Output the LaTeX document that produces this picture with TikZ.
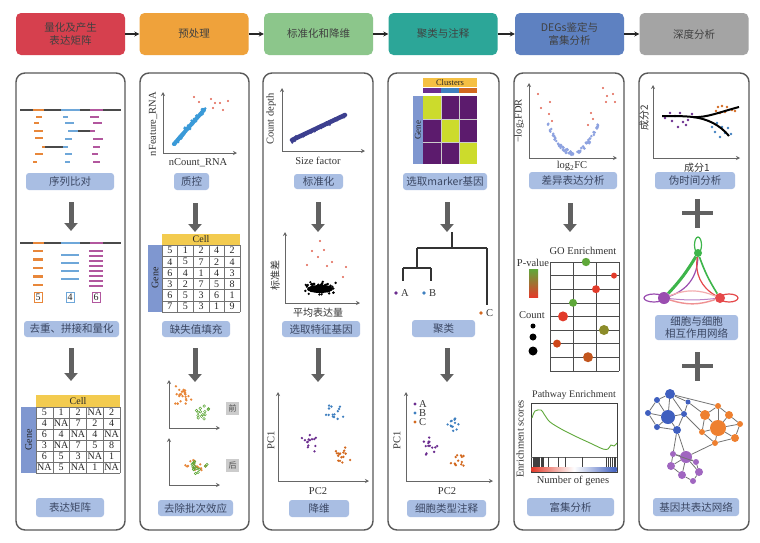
\documentclass[tikz,border=0pt]{standalone}
\usepackage{fontspec}
\setmainfont{Liberation Serif}
\newfontfamily\cjk{Noto Sans CJK SC}
\usetikzlibrary{arrows.meta,positioning,calc,shapes.geometric}
\definecolor{hred}{HTML}{D6404E}
\definecolor{horange}{HTML}{EFA23B}
\definecolor{hgreen}{HTML}{8CC68B}
\definecolor{hteal}{HTML}{2CA698}
\definecolor{hblue}{HTML}{5E81C1}
\definecolor{hgray}{HTML}{A4A4A4}
\definecolor{tagblue}{HTML}{A9BEE3}
\definecolor{tagtext}{HTML}{3B4763}
\definecolor{frame}{HTML}{595959}
\definecolor{cellyel}{HTML}{F3CB4F}
\definecolor{genebar}{HTML}{7F97D0}
\definecolor{rdorange}{HTML}{E8873A}
\definecolor{rdblue}{HTML}{6EA7D9}
\definecolor{rdpurple}{HTML}{B2579E}
\definecolor{rdgray}{HTML}{4A4A4A}
\definecolor{qcblue}{HTML}{3A9AD8}
\definecolor{navy}{HTML}{3C3F8F}
\definecolor{clpurple}{HTML}{6B2D8F}
\definecolor{clblue}{HTML}{3F80C0}
\definecolor{clorange}{HTML}{D3691F}
\definecolor{hmpurple}{HTML}{5C1B6D}
\definecolor{hmyellow}{HTML}{CCDB2C}
\definecolor{volblue}{HTML}{8DA2E0}
\definecolor{volred}{HTML}{E0604E}
\definecolor{gogreen}{HTML}{5FA83A}
\definecolor{gored}{HTML}{E23B2A}
\definecolor{goolive}{HTML}{8C8C2A}
\definecolor{gobrown}{HTML}{C2561E}
\definecolor{netblue}{HTML}{3F5FBF}
\definecolor{netorange}{HTML}{EE8030}
\definecolor{netpurple}{HTML}{A066C0}
\definecolor{ccgreen}{HTML}{3DB54A}
\definecolor{ccpurple}{HTML}{9A4DB0}
\definecolor{ccred}{HTML}{E5484A}
\tikzset{hdr/.style={rounded corners=5pt,minimum width=109pt,minimum height=42pt,align=center,
    font=\cjk\fontsize{10.5}{12.5}\selectfont,text=black!75,inner sep=2pt},
  panel/.style={draw=frame,line width=1.4pt,rounded corners=9pt},
  tag/.style={fill=tagblue,rounded corners=3pt,align=center,text=tagtext,
    font=\cjk\fontsize{10.5}{12}\selectfont,inner sep=1pt},
  flow/.style={-{Stealth[length=5pt,width=5pt]},line width=1.8pt,draw=black!85},
  downarrow/.style={-{Triangle[length=8pt,width=13pt]},line width=5pt,draw=black!62},
  plusbar/.style={line width=4.5pt,draw=black!62},
  axes2/.style={{Stealth[length=4pt,width=4pt]}-{Stealth[length=4pt,width=4pt]},line width=0.9pt,draw=black!60},
  axlabel/.style={font=\fontsize{10.5}{12}\selectfont,text=black!80,inner sep=1pt},
  cjklabel/.style={font=\cjk\fontsize{10}{11}\selectfont,text=black!80,inner sep=1pt},
  readbar/.style={line width=2.6pt},
  tabline/.style={draw=black!55,line width=0.5pt},
  num/.style={font=\fontsize{10}{10}\selectfont,inner sep=0pt,text=black!85},
  netnode/.style={circle,inner sep=0pt},
  netlink/.style={draw=black!55,line width=0.8pt}}
\newcommand{\dotcloud}[6]{\foreach \k in {1,...,#5}{%
  \pgfmathsetmacro\dcx{#1+#3*(rand+rand)/2}\pgfmathsetmacro\dcy{#2+#4*(rand+rand)/2}%
  \fill[#6] (\dcx,\dcy) circle (1.3);}}

\begin{document}
\begin{tikzpicture}[x=1pt,y=-1pt]
\pgfmathsetseed{11}
\useasboundingbox (0,0) rectangle (760,542);
\fill[white] (0,0) rectangle (760,542);

% stage headers
\node[hdr,fill=hred]    (h1) at (70.5,34) {量化及产生\\表达矩阵};
\node[hdr,fill=horange] (h2) at (194,34) {预处理};
\node[hdr,fill=hgreen]  (h3) at (318.5,34) {标准化和降维};
\node[hdr,fill=hteal]   (h4) at (443,34) {聚类与注释};
\node[hdr,fill=hblue]   (h5) at (569.5,34) {DEGs鉴定与\\富集分析};
\node[hdr,fill=hgray]   (h6) at (694,34) {深度分析};
\foreach \a/\b in {h1/h2,h2/h3,h3/h4,h4/h5,h5/h6} \draw[flow] (\a) -- (\b);

% panels
\foreach \a/\b in {16/125,140/249,263/373,388/499,514/624,639/749}
  \draw[panel] (\a,73) rectangle (\b,530);

% step tags
\node[tag,minimum width=88pt,minimum height=17pt] (t11) at (70,181.5) {序列比对};
\node[tag,minimum width=95pt,minimum height=16pt] (t12) at (71.5,329) {去重、拼接和量化};
\node[tag,minimum width=68pt,minimum height=19pt] (t13) at (70,507.5) {表达矩阵};
\node[tag,minimum width=35pt,minimum height=17pt] (t21) at (191.5,181.5) {质控};
\node[tag,minimum width=68pt,minimum height=16pt] (t22) at (196,329) {缺失值填充};
\node[tag,minimum width=75pt,minimum height=16pt] (t23) at (195.5,508) {去除批次效应};
\node[tag,minimum width=49pt,minimum height=15pt] (t31) at (318.5,181.5) {标准化};
\node[tag,minimum width=78pt,minimum height=16pt] (t32) at (321,329) {选取特征基因};
\node[tag,minimum width=60pt,minimum height=17pt] (t33) at (319,508.5) {降维};
\node[tag,minimum width=84pt,minimum height=17pt] (t41) at (445,181.5) {选取marker基因};
\node[tag,minimum width=63pt,minimum height=17pt] (t42) at (443.5,328.5) {聚类};
\node[tag,minimum width=79pt,minimum height=17pt] (t43) at (446.5,508.5) {细胞类型注释};
\node[tag,minimum width=88pt,minimum height=17pt] (t51) at (573,180.5) {差异表达分析};
\node[tag,minimum width=87pt,minimum height=18pt] (t52) at (570.5,507) {富集分析};
\node[tag,minimum width=80pt,minimum height=17pt] (t61) at (695,180.5) {伪时间分析};
\node[tag,minimum width=83pt,minimum height=25pt] (t62) at (696.5,327.5) {细胞与细胞\\相互作用网络};
\node[tag,minimum width=86pt,minimum height=18pt] (t63) at (696,507) {基因共表达网络};

% down arrows and plus signs
\foreach \n/\x/\ya/\yb in {d11/71/202/231,d12/71/348/381,d21/195/203/232,d22/195/348/382,
    d31/318/202/232,d32/318/348/382,d41/447/202/232,d42/447/348/382,d51/570/203/232}{
  \coordinate (\n a) at (\x,\ya); \coordinate (\n b) at (\x,\yb);
  \draw[downarrow] (\n a) -- (\n b);}
\foreach \y in {213,366} \draw[plusbar] (682,\y) -- (713,\y) (697.5,{\y-14}) -- (697.5,{\y+15});

% --- panel 1: alignment
\foreach \a/\b/\c in {20/33/rdgray,33/44/rdorange,44/61/rdgray,61/80/rdblue,80/90/rdgray,90/103/rdpurple,103/121/rdgray}
  {\draw[readbar,\c] (\a,110) -- (\b,110); \draw[readbar,\c] (\a,243) -- (\b,243);}
\foreach \y/\a/\b/\c in {117/36/42/rdorange,123/34/39/rdorange,131/34/43/rdorange,138/35/43/rdorange,
    147/42/45/rdorange,147/45/63/rdgray,154/35/43/rdorange,162/33/37/rdorange,
    117/63/68/rdblue,123/65/74/rdblue,131/68/78/rdblue,131/78/90/rdgray,139/65/72/rdblue,
    147/63/68/rdblue,154/65/72/rdblue,162/65/70/rdblue,
    117/90/99/rdpurple,123/93/102/rdpurple,131/90/95/rdpurple,139/93/103/rdpurple,
    147/93/100/rdpurple,154/92/98/rdpurple,162/93/100/rdpurple}
  \draw[readbar,\c] (\a,\y) -- (\b,\y);
\foreach \y in {251,259.5,268,276.5,285} \draw[readbar,rdorange,line width=2.2pt] (33,\y) -- (43,\y);
\foreach \y in {255,263,271,279} \draw[readbar,rdblue,line width=2.2pt] (61,\y) -- (79,\y);
\foreach \y in {251,256,261,266,271,276,281,286} \draw[readbar,rdpurple,line width=2.2pt] (89,\y) -- (103,\y);
\node[num,draw=rdorange,line width=0.6pt,minimum width=8pt,minimum height=10pt] (c5) at (38,297) {5};
\node[num,draw=rdblue,line width=0.6pt,minimum width=8pt,minimum height=10pt] (c4) at (70,297) {4};
\node[num,draw=rdpurple,line width=0.6pt,minimum width=8pt,minimum height=10pt] (c6) at (96,297) {6};

% panel 1: expression matrix
\fill[cellyel] (36,395) rectangle (120,407);
\node[num] (cella) at (78,401) {Cell};
\fill[genebar] (21,407) rectangle (36,473);
\node[num,rotate=90] (genea) at (28.5,440) {Gene};
\foreach \i in {0,...,5} \draw[tabline] ({36+16.8*\i},407) -- ({36+16.8*\i},473);
\foreach \j in {0,...,6} \draw[tabline] (36,{407+11*\j}) -- (120,{407+11*\j});
\foreach \row [count=\j] in {{5,1,2,NA,2},{4,NA,7,2,4},{6,4,NA,4,NA},{3,NA,7,5,8},{6,5,3,NA,1},{NA,5,NA,1,NA}}
  \foreach \v [count=\i] in \row \node[num] (ta-\j-\i) at ({36+16.8*(\i-0.5)},{407+11*(\j-0.5)}) {\v};

% --- panel 2: QC scatter
\draw[axes2] (163,92) -- (163,153) -- (237,153);
\node[axlabel,rotate=90] (qcy) at (153,124) {nFeature\_RNA};
\node[axlabel] (qcx) at (198,163) {nCount\_RNA};
\draw[qcblue,line width=4pt,line cap=round] (174,144) -- (204,110);
\foreach \k in {0,...,60}{\pgfmathsetmacro\tt{\k/60}
  \fill[qcblue] ({173+32*\tt+2*rand},{145-37*\tt+2*rand}) circle (1.4);}
\foreach \x/\y in {194/97,199/102,211/99,215/103,220/103,228/101,213/108,223/110}
  \fill[volred] (\x,\y) circle (1.2);

% panel 2: imputed matrix
\fill[cellyel] (162,234) rectangle (240,245);
\node[num] (cellb) at (201,239.5) {Cell};
\fill[genebar] (148,245) rectangle (162,312);
\node[num,rotate=90] (geneb) at (155,278) {Gene};
\foreach \i in {0,...,5} \draw[tabline] ({162+15.6*\i},245) -- ({162+15.6*\i},312);
\foreach \j in {0,...,6} \draw[tabline] (162,{245+11.17*\j}) -- (240,{245+11.17*\j});
\foreach \row [count=\j] in {{5,1,2,4,2},{4,5,7,2,4},{6,4,1,4,3},{3,2,7,5,8},{6,5,3,6,1},{7,5,3,1,9}}
  \foreach \v [count=\i] in \row \node[num] (tb-\j-\i) at ({162+15.6*(\i-0.5)},{245+11.17*(\j-0.5)}) {\v};

% panel 2: batch effect
\draw[axes2] (169,380) -- (169,428) -- (220,428);
\dotcloud{183}{396}{9}{13}{26}{rdorange}
\foreach \k in {1,...,14}\draw[gogreen,line width=0.5pt] ({203+9*(rand+rand)/2},{413+10*(rand+rand)/2}) circle (1.3);
\node[fill=black!20,font=\cjk\fontsize{8}{9}\selectfont,text=black!70,minimum size=13pt,inner sep=0pt] (pre) at (232.5,408.5) {前};
\draw[axes2] (169,438) -- (169,485) -- (220,485);
\dotcloud{196}{467}{13}{8}{18}{rdorange}
\foreach \k in {1,...,14}\draw[gogreen,line width=0.6pt] ({196+12*(rand+rand)/2},{467+8*(rand+rand)/2}) circle (1.3);
\node[fill=black!20,font=\cjk\fontsize{8}{9}\selectfont,text=black!70,minimum size=13pt,inner sep=0pt] (post) at (232.5,465.5) {后};

% --- panel 3: size factors
\draw[axes2] (282,88) -- (282,151) -- (365,151);
\node[axlabel,rotate=90] (cdy) at (271,119) {Count depth};
\node[axlabel] (cdx) at (318,161) {Size factor};
\draw[navy,line width=4.5pt,line cap=round] (292,140) -- (345,115);
\foreach \k in {0,...,55}{\pgfmathsetmacro\tt{\k/55}
  \fill[navy] ({291+55*\tt+1.5*rand},{141-26*\tt+2.2*rand}) circle (1.3);}

% panel 3: variable genes
\draw[axes2] (285,232) -- (285,303) -- (360,303);
\node[cjklabel,rotate=90] (sdy) at (275,275) {标准差};
\node[cjklabel] (sdx) at (318,313) {平均表达量};
\fill[black] (320,289) ellipse (13 and 4);
\dotcloud{320}{288}{18}{7}{90}{black}
\foreach \x/\y in {320/241,312/251,324/250,318/257,307/265,332/262,327/266,346/267,343/277}
  \fill[volred] (\x,\y) circle (1.2);

% panel 3: PCA
\draw[axes2] (278,392) -- (278,481) -- (369,481);
\node[axlabel,rotate=90] (pcay) at (271,440) {PC1};
\node[axlabel] (pcax) at (318,491) {PC2};
\dotcloud{335}{414}{11}{9}{14}{clblue}
\dotcloud{310}{441}{10}{13}{14}{clpurple}
\dotcloud{343}{454}{9}{10}{16}{clorange}

% --- panel 4: marker heatmap
\fill[cellyel!85!orange] (423,78) rectangle (477,87);
\node[num,font=\fontsize{8.5}{9}\selectfont] (clus) at (450,82.5) {Clusters};
\fill[clpurple] (423,88) rectangle (441,93);
\fill[clblue] (441,88) rectangle (459,93);
\fill[clorange] (459,88) rectangle (477,93);
\fill[genebar] (413,96) rectangle (423,164);
\node[num,rotate=90,font=\fontsize{9}{9}\selectfont] (genec) at (418,130) {Gene};
\fill[hmpurple] (423,96) rectangle (477,164);
\fill[hmyellow] (423,96) rectangle (441,119);
\fill[hmyellow] (441,119) rectangle (459,142);
\fill[hmyellow] (459,142) rectangle (477,164);
\draw[white!80!black,line width=0.4pt] (441,96) -- (441,164) (459,96) -- (459,164) (423,119) -- (477,119) (423,142) -- (477,142);

% panel 4: dendrogram
\draw[black!80,line width=1.1pt] (452,232) -- (452,248) (417,248) -- (487,248) (417,248) -- (417,268)
  (403,268) -- (431,268) (403,268) -- (403,281) (431,268) -- (431,281) (487,248) -- (487,305);
\fill[clpurple] (396,293) circle (1.8); \node[axlabel,anchor=west] (la) at (400,293) {A};
\fill[clblue] (424,293) circle (1.8); \node[axlabel,anchor=west] (lb) at (428,293) {B};
\fill[clorange] (481,313) circle (1.8); \node[axlabel,anchor=west] (lc) at (485,313) {C};

% panel 4: annotated PCA
\draw[axes2] (406,392) -- (406,481) -- (493,481);
\node[axlabel,rotate=90] (pcby) at (397,440) {PC1};
\node[axlabel] (pcbx) at (447,491) {PC2};
\foreach \y/\c/\t in {404/clpurple/A,413/clblue/B,422/clorange/C}
  {\fill[\c] (415,\y) circle (1.6); \node[axlabel,anchor=west] (lg\t) at (418,\y) {\t};}
\dotcloud{453}{424}{9}{8}{13}{clblue}
\dotcloud{431}{447}{9}{12}{14}{clpurple}
\dotcloud{458}{458}{8}{9}{13}{clorange}

% --- panel 5: volcano
\draw[axes2] (529,83) -- (529,158) -- (617,158);
\node[axlabel,rotate=90] (voly) at (519,121) {−log\textsubscript{2}FDR};
\node[axlabel] (volx) at (572,166) {log\textsubscript{2}FC};
\foreach \k in {1,...,80}{\pgfmathsetmacro\vu{rand}
  \fill[volblue] ({573+25*\vu},{153-29*\vu*\vu+2.5*rand}) circle (1.4);}
\foreach \x/\y in {538/94,541/108,550/102,549/114,552/121,591/113,593/119,588/125,603/88,607/96,613/94,606/102,615/102}
  \fill[volred] (\x,\y) circle (1.2);

% panel 5: GO enrichment
\node[axlabel] (gott) at (583,251) {GO Enrichment};
\foreach \x in {550,573,596,619} \draw[tabline,black!70] (\x,262) -- (\x,371);
\foreach \j in {0,...,8} \draw[tabline,black!70] (550,{262+13.6*\j}) -- (619,{262+13.6*\j});
\node[axlabel] (pval) at (533,263) {P-value};
\shade[top color=gogreen,bottom color=gored] (529,269) rectangle (538,297);
\node[axlabel] (cnt) at (532,315) {Count};
\fill[black] (533,326) circle (2.5) (533,337) circle (3.5) (533,351) circle (4.5);
\fill[gogreen] (586,262) circle (4.2);
\fill[gored] (614,275.6) circle (3);
\fill[gored] (596,289.2) circle (4);
\fill[gogreen] (573,302.8) circle (4);
\fill[gored] (563,316.4) circle (5);
\fill[goolive] (604,330) circle (5);
\fill[gobrown!80!red] (557,343.6) circle (4);
\fill[gobrown] (588,357.2) circle (5);

% panel 5: pathway enrichment
\node[axlabel,font=\fontsize{10}{11}\selectfont] (pwtt) at (574,395) {Pathway Enrichment};
\draw[black!75,line width=0.8pt] (531,403) rectangle (617,472);
\draw[black!60,line width=0.4pt] (531,457) -- (617,457);
\shade[left color=gored,right color=netblue,middle color=white] (531.5,467) rectangle (616.5,471.5);
\foreach \x in {533,534,535,536,537,538,539,541,542,543,548,558,565,582,606,608,610,612,614,615}
  \draw[black!75,line width=0.4pt] (\x,457) -- (\x,467);
\draw[gogreen,line width=0.9pt] plot[smooth] coordinates {(532,418) (535,411) (541,410) (544,414) (550,422) (563,430) (577,437) (590,443) (603,449) (608,449) (611,445) (614,446) (617,443)};
\node[axlabel,rotate=90] (pwy) at (520,439) {Enrichment scores};
\node[axlabel] (pwx) at (573,481) {Number of genes};

% --- panel 6: pseudotime
\draw[axes2] (653,85) -- (653,158) -- (740,158);
\node[cjklabel,rotate=90] (psy) at (644,118) {成分2};
\node[cjklabel] (psx) at (697,168) {成分1};
\foreach \x/\y in {670/113,675/116,680/113,672/121,683/122,688/120,678/127,686/125,665/118,692/114}
  \fill[clpurple] (\x,\y) circle (1.3);
\foreach \x/\y in {718/107,722/106,727/107,732/110,720/113,725/112,735/111,716/111}
  \fill[clorange] (\x,\y) circle (1.3);
\foreach \x/\y in {717/123,722/127,728/128,715/132,725/133,720/137,731/134,712/127}
  \fill[clblue] (\x,\y) circle (1.3);
\draw[black,line width=2pt] (662,116) .. controls (675,116) and (684,116) .. (693,117)
  .. controls (706,118) and (720,112) .. (739,107);
\draw[black,line width=2pt] (693,117) .. controls (708,119) and (720,125) .. (729,136);

% panel 6: cell-cell interaction
\draw[ccgreen,line width=1.2pt] (698,245) ellipse (3.5 and 8);
\draw[ccpurple,line width=1.2pt] (654,298) ellipse (10 and 4);
\draw[ccred,line width=1.2pt] (729,298) ellipse (9 and 4);
\node[netnode,fill=ccgreen,minimum size=8pt] (cg) at (698,253) {};
\node[netnode,fill=ccpurple,minimum size=12pt] (cp) at (664,298) {};
\node[netnode,fill=ccred,minimum size=10pt] (cr) at (720,298) {};
\draw[ccpurple,line width=1.2pt] (cp) to[bend right=35] (cg);
\draw[ccgreen,line width=3pt] (cp) to[bend right=6] (cg);
\draw[ccgreen,line width=1.6pt] (cg) to[bend right=6] (cr);
\draw[ccred,line width=1.2pt] (cg) to[bend right=35] (cr);
\draw[ccred!60,line width=1.4pt] (cp) to[bend right=18] (cr);
\draw[ccred!45,line width=1.2pt] (cp) to[bend left=22] (cr);
\draw[ccpurple!70,line width=1pt] (cp) to[bend right=6] (cr);

% panel 6: gene co-expression network
\foreach \n/\x/\y/\r in {b1/670/394/5,b2/657/400/3,b3/668/417/7,b4/648/413/3,b5/657/427/3,b6/677/430/4,b7/684/414/3,b8/688/402/2.5}
  \node[netnode,fill=netblue,minimum size=\r*2pt] (\n) at (\x,\y) {};
\foreach \n/\x/\y/\r in {o1/718/428/8,o2/705/415/5,o3/718/406/3,o4/729/415/4,o5/740/424/3,o6/735/438/4,o7/715/443/3,o8/702/432/3}
  \node[netnode,fill=netorange,minimum size=\r*2pt] (\n) at (\x,\y) {};
\foreach \n/\x/\y/\r in {p1/686/457/6,p2/673/454/3,p3/671/466/4,p4/682/475/4,p5/693/481/3,p6/699/472/4,p7/696/462/3}
  \node[netnode,fill=netpurple,minimum size=\r*2pt] (\n) at (\x,\y) {};
\foreach \a/\b in {b1/b2,b1/b3,b1/b7,b1/b8,b2/b4,b2/b3,b3/b4,b3/b5,b3/b6,b3/b7,b4/b5,b5/b6,b6/b7,b7/b8,
    o1/o2,o1/o3,o1/o4,o1/o5,o1/o6,o1/o7,o1/o8,o2/o3,o3/o4,o4/o5,o5/o6,o6/o7,o7/o8,o2/o8,
    p1/p2,p1/p3,p1/p4,p1/p6,p1/p7,p2/p3,p3/p4,p4/p5,p5/p6,p6/p7,p2/p7,
    b8/o2,b1/o3,b6/p2,b7/o8,o7/p1,b6/p1}
  \draw[netlink] (\a) -- (\b);
\end{tikzpicture}
\end{document}
